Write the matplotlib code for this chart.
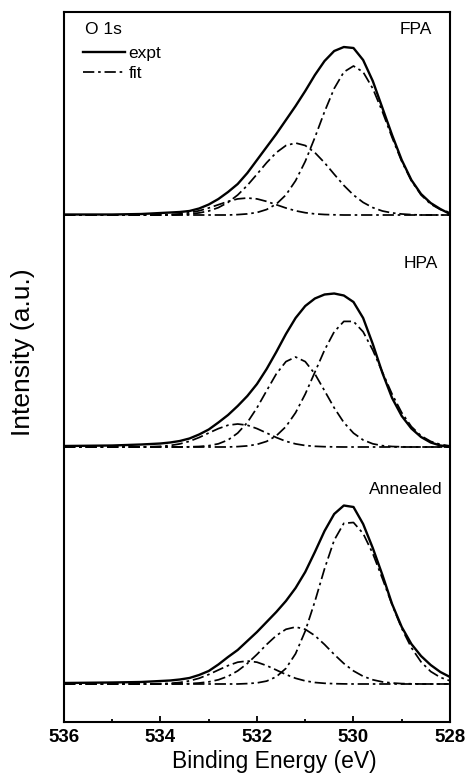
import matplotlib
matplotlib.use('Agg')
import matplotlib.pyplot as plt
from matplotlib.ticker import MultipleLocator

plt.rcParams['font.family'] = ['Liberation Sans', 'DejaVu Sans']

# binding energy grid (eV) shared by every curve
energy = [536.0, 535.0, 534.4, 534.2, 534.0, 533.8, 533.6, 533.4, 533.2, 533.0,
          532.8, 532.6, 532.4, 532.2, 532.0, 531.8, 531.6, 531.4, 531.2, 531.0,
          530.8, 530.6, 530.4, 530.2, 530.0, 529.8, 529.6, 529.4, 529.2, 529.0,
          528.8, 528.6, 528.4, 528.2, 528.0]

# FPA
fpa_expt = [0.5, 0.5, 1, 1.5, 2, 2.5, 3, 4, 6.5, 10.5, 16, 23, 31, 42, 55, 68, 81, 95, 109, 124,
            140, 154, 164, 168, 167, 155, 134, 107, 80, 55, 35, 21, 12, 6, 1]
fpa_fit1 = [0] * 12 + [0.4, 1.1, 2.5, 5.5, 10.9, 20.1, 34.3, 53.6, 77.5, 103.3, 126.5, 143.0, 149,
                       143.0, 126.5, 103.3, 77.5, 53.6, 34.3, 20.1, 10.9, 5.5, 2.5]
fpa_fit2 = [0] * 6 + [0.4, 1.0, 2.1, 4.0, 7.4, 12.6, 20.0, 29.6, 40.8, 52.3, 62.4, 69.5, 72, 69.5,
                      62.4, 52.3, 40.8, 29.6, 20.0, 12.6, 7.4, 4.0, 2.1, 1.0, 0.4] + [0] * 4
fpa_fit3 = [0] * 4 + [0.2, 0.5, 1.1, 2.3, 4.2, 7.0, 10.3, 13.6, 16.1, 17, 16.1, 13.6, 10.3, 7.0,
                      4.2, 2.3, 1.1, 0.5, 0.2] + [0] * 12

# HPA
hpa_expt = [1, 1.5, 2.5, 3, 3.5, 4.5, 6, 8.5, 12.5, 17.5, 24.5, 32, 41, 51, 63, 78, 95, 113, 129, 141,
            148.5, 152.5, 153.5, 151.5, 145, 129, 103, 74, 49, 31, 18.5, 10, 4.5, 1.5, 0.3]
hpa_fit1 = [0] * 12 + [0.4, 1.1, 2.6, 5.6, 11.2, 20.4, 34.3, 52.9, 74.8, 96.9, 115.2, 125.6, 125.6,
                       115.2, 96.9, 74.8, 52.9, 34.3, 20.4, 11.2, 5.6, 2.6, 1.1]
hpa_fit2 = [0] * 7 + [0.2, 0.5, 1.3, 3.2, 7.0, 13.9, 24.5, 39.2, 56.3, 73.1, 85.4, 90, 85.4, 73.1,
                      56.3, 39.2, 24.5, 13.9, 7.0, 3.2, 1.3, 0.5, 0.2] + [0] * 5
hpa_fit3 = [0, 0, 0.1, 0.3, 0.7, 1.5, 3.1, 5.7, 9.5, 14.0, 18.4, 21.8, 23, 21.8, 18.4, 14.0, 9.5,
            5.7, 3.1, 1.5, 0.7, 0.3, 0.1] + [0] * 12

# Annealed
ann_expt = [1, 1.5, 2, 2.5, 3, 3.5, 4.5, 6, 9, 13, 19.5, 27, 34, 43, 52, 62, 72, 83, 96, 112,
            132, 153, 170, 178.5, 177, 160, 136, 109, 80, 57, 40, 28, 19, 12, 7]
ann_fit1 = [0] * 13 + [0.4, 1.1, 2.9, 7.2, 15.6, 30.3, 52.9, 82.5, 115.2, 143.8, 160.7, 161.5,
                       150.5, 130.5, 105.4, 79.3, 55.6, 36.3, 22.1, 12.5, 6.6, 3.2]
ann_fit2 = [0] * 6 + [0.2, 0.4, 1.0, 2.1, 4.2, 7.7, 13.1, 20.5, 29.6, 39.5, 48.4, 54.7, 57, 54.7,
                      48.4, 39.5, 29.6, 20.5, 13.1, 7.7, 4.2, 2.1, 1.0, 0.4, 0.2] + [0] * 4
ann_fit3 = [0, 0, 0, 0.1, 0.3, 0.7, 1.5, 3.1, 5.7, 9.5, 14.0, 18.4, 21.8, 23, 21.8, 18.4, 14.0,
            9.5, 5.7, 3.1, 1.5, 0.7, 0.3, 0.1] + [0] * 11

samples = ['FPA', 'HPA', 'Annealed']
expts = [fpa_expt, hpa_expt, ann_expt]
fits = [[fpa_fit1, fpa_fit2, fpa_fit3],
        [hpa_fit1, hpa_fit2, hpa_fit3],
        [ann_fit1, ann_fit2, ann_fit3]]

# vertical stacking of the three spectra
offsets = [507, 275, 38]
label_pos = [(0.953, 0.976), (0.969, 0.646), (0.982, 0.328)]

fig = plt.figure(figsize=(4.65, 7.75), dpi=100)
ax = fig.add_axes([0.1376, 0.0684, 0.8301, 0.9161])

dash = (0, (6.5, 2.2, 1.5, 2.2))
for name, expt, comps, off, pos in zip(samples, expts, fits, offsets, label_pos):
    for comp in comps:
        ax.plot(energy, [v + off for v in comp], color='black', lw=1.25, linestyle=dash)
    ax.plot(energy, [v + off for v in expt], color='black', lw=1.7)
    ax.text(pos[0], pos[1], name, transform=ax.transAxes, ha='right', va='center', fontsize=12.5)

# legend
ax.plot([], [], color='black', lw=1.7, label='expt')
ax.plot([], [], color='black', lw=1.25, linestyle=dash, label='fit')
ax.text(0.054, 0.976, 'O 1s', transform=ax.transAxes, ha='left', va='center', fontsize=12.5)
ax.legend(loc='upper left', bbox_to_anchor=(0.05, 0.952), frameon=False, fontsize=12.5,
          handlelength=2.4, handletextpad=0.2, labelspacing=0.25, borderpad=0,
          borderaxespad=0)

ax.set_xlim(536, 528)
ax.set_ylim(0, 710)
ax.set_yticks([])
ax.xaxis.set_major_locator(MultipleLocator(2))
ax.xaxis.set_minor_locator(MultipleLocator(1))
ax.tick_params(axis='x', which='major', direction='in', length=4.5, width=1.3, labelsize=13.5, pad=5)
ax.tick_params(axis='x', which='minor', direction='in', length=2.5, width=1.3)
for lab in ax.get_xticklabels():
    lab.set_fontweight('bold')
for sp in ax.spines.values():
    sp.set_linewidth(1.5)

ax.set_xlabel('Binding Energy (eV)', fontsize=16.5)
ax.xaxis.set_label_coords(0.544, -0.039, transform=ax.transAxes)
ax.xaxis.label.set_va('top')
fig.text(23 / 465, 1 - 352 / 775, 'Intensity (a.u.)', rotation=90, ha='center', va='center',
         fontsize=19)

fig.savefig('out.png', dpi=100)
